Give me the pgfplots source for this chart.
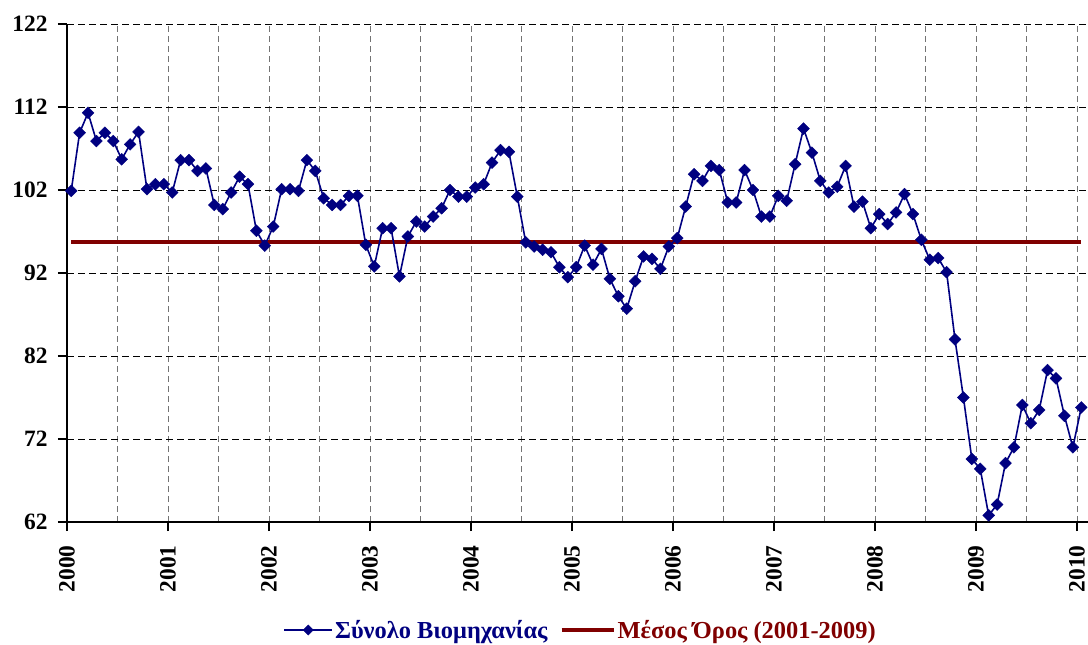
\documentclass[border=0pt]{standalone}
\usepackage{pgfplots}
\pgfplotsset{compat=1.18}
\usepackage{pgfplotstable}
\usepackage{fontspec}
\setmainfont{Liberation Serif}
\definecolor{navy}{RGB}{0,0,128}
\definecolor{dred}{RGB}{128,0,0}
\pgfplotsset{
  serleg/.style={legend image code/.code={\draw[mark repeat=2,mark phase=2,##1] plot coordinates {(0bp,0bp) (24bp,0bp) (48bp,0bp)};}},
  meanleg/.style={legend image code/.code={\draw[##1] (0bp,0bp) -- (52bp,0bp);}},
}
\pgfplotstableread{
x y
0.5 101.9
1.5 108.9
2.5 111.3
3.5 107.9
4.5 108.9
5.5 107.9
6.5 105.7
7.5 107.5
8.5 109.0
9.5 102.1
10.5 102.7
11.5 102.7
12.5 101.7
13.5 105.6
14.5 105.6
15.5 104.3
16.5 104.6
17.5 100.2
18.5 99.7
19.5 101.7
20.5 103.6
21.5 102.7
22.5 97.1
23.5 95.3
24.5 97.6
25.5 102.1
26.5 102.1
27.5 101.9
28.5 105.6
29.5 104.3
30.5 101.0
31.5 100.2
32.5 100.2
33.5 101.3
34.5 101.3
35.5 95.4
36.5 92.8
37.5 97.4
38.5 97.4
39.5 91.6
40.5 96.4
41.5 98.2
42.5 97.6
43.5 98.8
44.5 99.8
45.5 102.0
46.5 101.2
47.5 101.2
48.5 102.3
49.5 102.7
50.5 105.3
51.5 106.8
52.5 106.6
53.5 101.2
54.5 95.7
55.5 95.2
56.5 94.8
57.5 94.5
58.5 92.7
59.5 91.5
60.5 92.7
61.5 95.3
62.5 93.0
63.5 94.9
64.5 91.3
65.5 89.2
66.5 87.7
67.5 91.0
68.5 94.0
69.5 93.7
70.5 92.5
71.5 95.2
72.5 96.2
73.5 100.0
74.5 103.9
75.5 103.1
76.5 104.9
77.5 104.4
78.5 100.5
79.5 100.5
80.5 104.4
81.5 102.0
82.5 98.8
83.5 98.8
84.5 101.3
85.5 100.7
86.5 105.1
87.5 109.4
88.5 106.5
89.5 103.1
90.5 101.7
91.5 102.4
92.5 104.9
93.5 100.0
94.5 100.6
95.5 97.4
96.5 99.1
97.5 97.9
98.5 99.3
99.5 101.5
100.5 99.1
101.5 96.0
102.5 93.6
103.5 93.8
104.5 92.1
105.5 84.0
106.5 77.0
107.5 69.6
108.5 68.4
109.5 62.8
110.5 64.1
111.5 69.1
112.5 71.0
113.5 76.1
114.5 73.9
115.5 75.5
116.5 80.3
117.5 79.3
118.5 74.8
119.5 71.0
120.5 75.8
}\indexdata
\pgfplotstableread{
x y
0.5 95.7
120.5 95.7
}\meandata
\begin{document}
\begin{tikzpicture}
\begin{axis}[
  name=ax, at={(0,0)}, anchor=south west,
  scale only axis, width=1021bp, height=498bp,
  xmin=0, xmax=121.3, ymin=62, ymax=122,
  clip=false,
  axis x line*=bottom, axis y line*=left,
  axis line style={-, black, line width=1.3bp},
  xtick={0,12,24,36,48,60,72,84,96,108,120},
  xticklabels={2000,2001,2002,2003,2004,2005,2006,2007,2008,2009,2010},
  minor xtick={6,18,30,42,54,66,78,90,102,114},
  ytick={62,72,82,92,102,112,122},
  tick align=outside,
  major tick length=9bp, minor tick length=0bp,
  tick style={black, line width=1.2bp},
  xmajorgrids, xminorgrids, ymajorgrids,
  x grid style={black!55, dash pattern=on 6bp off 4bp, line width=1bp},
  y grid style={black, dash pattern=on 7bp off 4bp, line width=1bp},
  /pgf/number format/assume math mode=true,
  ticklabel style={font=\bfseries\fontsize{23.5}{26}\selectfont},
  xticklabel style={rotate=90, anchor=east},
  xticklabel shift=11bp,
  yticklabel shift=7bp,
  legend style={at={(0.503,-0.217)}, anchor=center, draw=none, fill=none,
    font=\bfseries\fontsize{24.5}{27}\selectfont, legend columns=2,
    /tikz/every even column/.append style={column sep=10bp}},
  legend cell align=left,
]
\addlegendimage{serleg, navy, line width=1.6bp, mark=square*, mark size=3.6bp,
  mark options={rotate=45, solid, fill=navy, line width=0.4bp}}
\addlegendentry{\textcolor{navy}{Σύνολο Βιομηχανίας}}
\addlegendimage{meanleg, dred, line width=4.2bp}
\addlegendentry{\textcolor{dred}{Μέσος Όρος (2001-2009)}}
\addplot[dred, line width=4.2bp, forget plot] table[x=x, y=y] {\meandata};
\addplot[navy, line width=1.6bp, mark=square*, mark size=4.2bp,
  mark options={rotate=45, solid, fill=navy, line width=0.4bp}, forget plot]
  table[x=x, y=y] {\indexdata};
\end{axis}
\pgfresetboundingbox
\path[use as bounding box] (-67bp,-123bp) rectangle (1021bp,522bp);
\end{tikzpicture}
\end{document}
